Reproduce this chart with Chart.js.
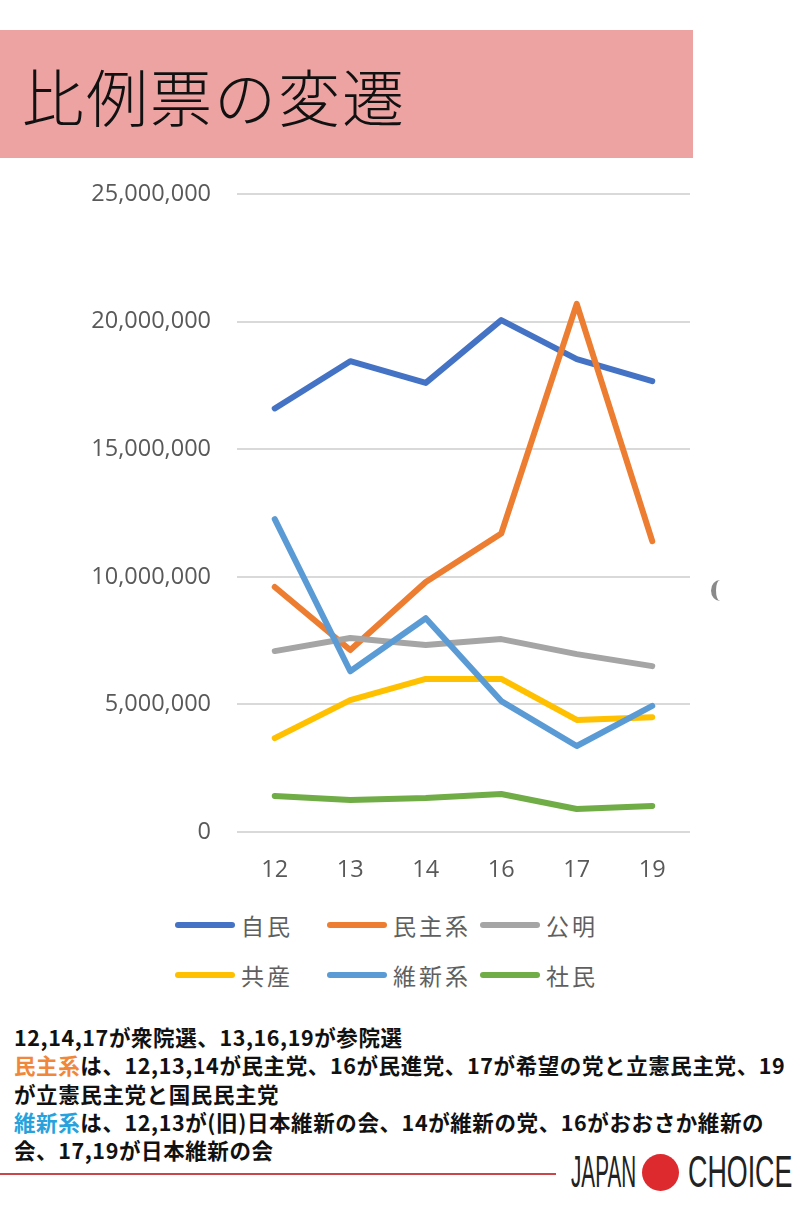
<!DOCTYPE html>
<html lang="ja">
<head>
<meta charset="utf-8">
<script src="https://cdn.jsdelivr.net/npm/chart.js@4/dist/chart.umd.min.js"></script>
<style>
  body { margin: 0; width: 800px; height: 1205px; position: relative; background: #fff; overflow: hidden;
         font-family: "Noto Sans CJK JP", sans-serif; }
  #banner { position: absolute; left: 0; top: 30px; width: 693px; height: 128px; background: #EEA3A3; }
  #banner h1 { margin: 0; position: absolute; left: 22px; top: 34px; font-size: 62px; line-height: 62px;
               font-weight: 300; color: #111; letter-spacing: 2px; }
  #chart-box { position: absolute; left: 0; top: 154px; width: 720px; height: 736px; }
  #legend { position: absolute; left: 175px; top: 900px; display: grid;
            grid-template-columns: 152px 153px 160px; grid-auto-rows: 50px; }
  .item { display: flex; align-items: center; color: #5f5f5f; font-size: 23px; letter-spacing: 3px; }
  .item i { display: inline-block; width: 60px; height: 6px; border-radius: 3px; margin-right: 6px; }
  #notes { position: absolute; left: 14px; top: 1023px; font-weight: bold; color: #111; white-space: nowrap; }
  #notes div { height: 28.3px; font-size: 21.5px; line-height: 28.3px; letter-spacing: 0.6px; }
  #rule { position: absolute; left: 0; top: 1173px; width: 556px; height: 2px; background: #C9474B; }
  #logo { position: absolute; left: 570px; top: 1150px; height: 44px; width: 230px; }
  #logo span { position: absolute; top: 0; font-family: "Liberation Sans Narrow", sans-serif; font-size: 44px;
               line-height: 44px; color: #222; transform-origin: left top; }
  #dot { position: absolute; left: 72px; top: 4px; width: 37px; height: 37px; border-radius: 50%; background: #DD2A2F; }
  #crescent { position: absolute; left: 711px; top: 580px; width: 18px; height: 21px; border-radius: 50%;
              border-left: 5px solid #8a8a8a; box-sizing: border-box; }
</style>
</head>
<body>
<div id="banner"><h1>比例票の変遷</h1></div>
<div id="chart-box"><canvas id="chart" width="720" height="736"></canvas></div>
<div id="crescent"></div>
<div id="legend"></div>
<div id="notes">
  <div>12,14,17が衆院選、13,16,19が参院選</div>
  <div><span style="color:#F0873A">民主系</span>は、12,13,14が民主党、16が民進党、17が希望の党と立憲民主党、19</div>
  <div>が立憲民主党と国民民主党</div>
  <div><span style="color:#28A2DD">維新系</span>は、12,13が(旧)日本維新の会、14が維新の党、16がおおさか維新の</div>
  <div>会、17,19が日本維新の会</div>
</div>
<div id="rule"></div>
<div id="logo"><span style="left:1px;transform:scaleX(0.47)">JAPAN</span><div id="dot"></div><span style="left:118px;transform:scaleX(0.61)">CHOICE</span></div>

<script>
  const categories = ['12', '13', '14', '16', '17', '19'];
  const seriesLabels = ['自民', '民主系', '公明', '共産', '維新系', '社民'];
  const seriesColors = ['#4472C4', '#ED7D31', '#A5A5A5', '#FFC000', '#5B9BD5', '#70AD47'];

  const jimin  = [16600000, 18450000, 17600000, 20060000, 18530000, 17670000];
  const minshu = [9600000, 7130000, 9800000, 11700000, 20700000, 11400000];
  const komei  = [7090000, 7600000, 7330000, 7560000, 6970000, 6500000];
  const kyosan = [3680000, 5170000, 6000000, 6000000, 4390000, 4500000];
  const ishin  = [12260000, 6300000, 8380000, 5130000, 3370000, 4940000];
  const shamin = [1410000, 1250000, 1330000, 1490000, 900000, 1020000];

  const seriesValues = [jimin, minshu, komei, kyosan, ishin, shamin];

  const datasets = seriesLabels.map(function(label, i) {
    return {
      label: label,
      data: seriesValues[i],
      borderColor: seriesColors[i],
      backgroundColor: seriesColors[i],
      borderWidth: 6,
      borderCapStyle: 'round',
      borderJoinStyle: 'round',
      pointRadius: 0,
      tension: 0,
      order: seriesLabels.length - i   // later series on top, like the spreadsheet
    };
  });

  const tickFont = {family: '"Open Sans", sans-serif', size: 23.5};

  new Chart(document.getElementById('chart'), {
    type: 'line',
    data: {labels: categories, datasets: datasets},
    options: {
      responsive: false,
      animation: false,
      layout: {padding: {top: 0, right: 30, bottom: 0, left: 0}},
      plugins: {legend: {display: false}, tooltip: {enabled: false}},
      scales: {
        x: {
          offset: true,
          grid: {display: false},
          border: {display: false},
          ticks: {color: '#595959', font: tickFont, padding: 16},
          afterFit: function(scale) { scale.height = 58; }
        },
        y: {
          min: 0,
          max: 25000000,
          grid: {color: '#D9D9D9', lineWidth: 2, drawTicks: false},
          border: {display: false},
          ticks: {
            stepSize: 5000000,
            color: '#595959',
            font: tickFont,
            padding: 26,
            callback: function(v) { return v.toLocaleString('en-US'); }
          },
          afterFit: function(scale) { scale.width = 237; }
        }
      }
    }
  });

  const legend = document.getElementById('legend');
  seriesLabels.forEach(function(label, i) {
    const item = document.createElement('div');
    item.className = 'item';
    item.innerHTML = '<i style="background:' + seriesColors[i] + '"></i>' + label;
    legend.appendChild(item);
  });
</script>
</body>
</html>
